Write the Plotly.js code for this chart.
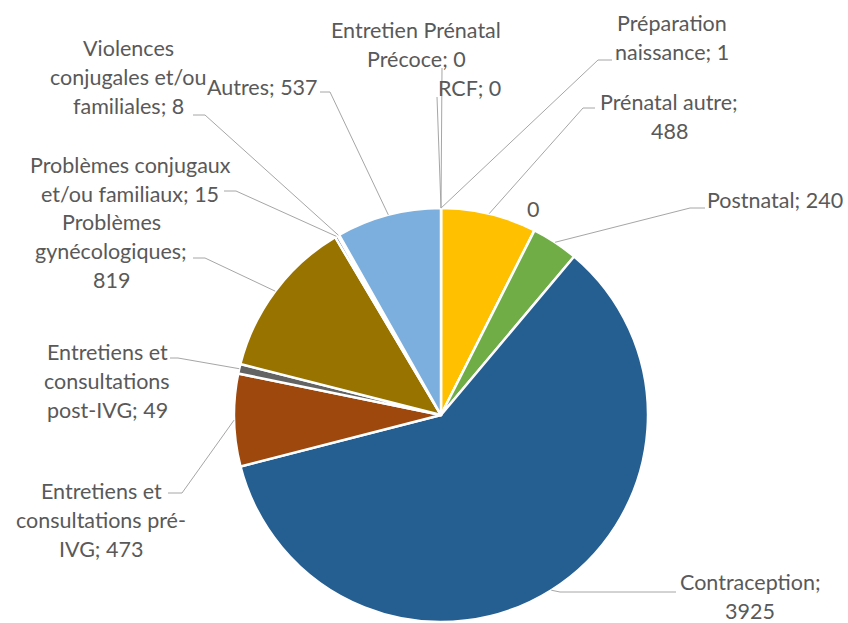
<!DOCTYPE html>
<html><head><meta charset="utf-8">
<script src="https://cdn.plot.ly/plotly-3.0.1.min.js"></script>
<style>html,body{margin:0;padding:0;background:#fff}#chart{width:848px;height:623px}</style>
</head><body><div id="chart"></div>
<script>
// ---- data ----
const categories = ["Entretien Prénatal Précoce", "RCF", "Préparation naissance", "Prénatal autre", "", "Postnatal", "Contraception", "Entretiens et consultations pré-IVG", "Entretiens et consultations post-IVG", "Problèmes gynécologiques", "Problèmes conjugaux et/ou familiaux", "Violences conjugales et/ou familiales", "Autres"];
const values = [0, 0, 1, 488, 0, 240, 3925, 473, 49, 819, 15, 8, 537];
// wrapped label text (as shown in the chart)
const wrappedLabels = ["Entretien Prénatal<br>Précoce", "RCF", "Préparation<br>naissance", "Prénatal autre", "", "Postnatal", "Contraception", "Entretiens et<br>consultations pré-<br>IVG", "Entretiens et<br>consultations<br>post-IVG", "Problèmes<br>gynécologiques", "Problèmes conjugaux<br>et/ou familiaux", "Violences<br>conjugales et/ou<br>familiales", "Autres"];
const valueOnNewLine = [false, false, false, true, false, false, true, false, false, true, false, false, false];

// ---- styles / layout ----
const colors = ["#4472C4", "#ED7D31", "#A5A5A5", "#FFC000", "#5B9BD5", "#70AD47", "#255E91", "#9E480E", "#636363", "#997300", "#264478", "#43682B", "#7CAFDD"];
const W = 848, H = 623;
const cx = 441, cy = 415, R = 207;
const labelPos = [[416,44.5],[470,88],[672,37],[669,116.5],[533,209],[775,200],[750,596],[101,519.5],[107,381],[111,251],[130,179],[128,77],[262,87]];
const leaderPts = [
  [[442,68]],
  [[437,97]],
  [[598,60],[612,60]],
  [[583,108],[595,108]],
  null,
  [[690,208],[705,208]],
  [[560,592],[676,592]],
  [[182,493],[168,493]],
  [[178,358],[170,358]],
  [[205,258],[193,258]],
  [[236,191],[224,191]],
  [[205,115],[193,115]],
  [[330,92],[320,92]]
];
const FONT = "Lato, 'Open Sans', sans-serif";
const FSIZE = 21.5, LINEH = 29, TXT = "#595959";

const px = x => x / W, py = y => 1 - y / H;

const total = values.reduce((a, b) => a + b, 0);
let cum = 0;
const annotations = [], shapes = [];
values.forEach((v, i) => {
  const mid = (cum + v / 2) / total * 2 * Math.PI;
  cum += v;
  const sx = cx + R * Math.sin(mid), sy = cy - R * Math.cos(mid);
  let txt = wrappedLabels[i] ? wrappedLabels[i] + ";" + (valueOnNewLine[i] ? "<br>" : " ") + v : String(v);
  const lines = txt.split("<br>");
  const [lx, ly] = labelPos[i];
  lines.forEach((ln, k) => {
    annotations.push({
      xref: "paper", yref: "paper", x: px(lx), y: py(ly + (k - (lines.length - 1) / 2) * LINEH),
      xanchor: "center", yanchor: "middle", showarrow: false, text: ln,
      font: {family: FONT, size: FSIZE, color: TXT}
    });
  });
  if (leaderPts[i]) {
    let d = "M" + px(sx) + "," + py(sy);
    leaderPts[i].forEach(p => { d += " L" + px(p[0]) + "," + py(p[1]); });
    shapes.push({type: "path", xref: "paper", yref: "paper", path: d, line: {color: "#A6A6A6", width: 1}});
  }
});

const trace = {
  type: "pie", labels: categories.map((c, i) => c || ("—" + i)), values: values,
  sort: false, direction: "clockwise", rotation: 0,
  marker: {colors: colors, line: {color: "#FFFFFF", width: 2.5}},
  textinfo: "none", hoverinfo: "none",
  domain: {x: [(cx - R) / W, (cx + R) / W], y: [(H - cy - R) / H, (H - cy + R) / H]}
};
const layout = {
  width: W, height: H, margin: {l: 0, r: 0, t: 0, b: 0},
  showlegend: false, paper_bgcolor: "#fff",
  annotations: annotations, shapes: shapes
};
Plotly.newPlot("chart", [trace], layout, {displayModeBar: false, staticPlot: true});
</script></body></html>
